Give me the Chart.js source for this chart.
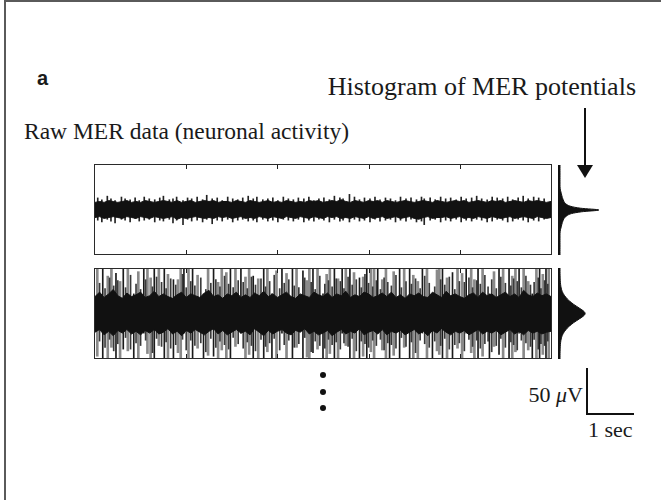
<!DOCTYPE html>
<html>
<head>
<meta charset="utf-8">
<script src="https://cdn.jsdelivr.net/npm/chart.js@4.4.0/dist/chart.umd.min.js"></script>
<style>
body { margin: 0; width: 661px; height: 500px; overflow: hidden; position: relative; background: #fff; color: #1a1a1a; font-family: "Liberation Serif", serif; }
.abs { position: absolute; }
.frame { left: 4px; top: 0; width: 700px; height: 540px; border-left: 2px solid #5a5a5a; border-top: 2px solid #5a5a5a; }
.panel { border: 1px solid #2a2a2a; }
.hist { border-left: 2px solid #111; }
.serif { white-space: nowrap; line-height: 1; }
.dot { width: 6px; height: 6px; border-radius: 50%; background: #111; }
</style>
</head>
<body>
<div class="abs frame"></div>

<div class="abs" style="left:37px;top:68px;font:700 20px 'Liberation Sans',sans-serif;line-height:20px">a</div>
<div class="abs serif" style="right:25px;top:74px;font-size:26px">Histogram of MER potentials</div>
<div class="abs serif" style="left:24px;top:120px;font-size:23.5px">Raw MER data (neuronal activity)</div>

<!-- arrow -->
<div class="abs" style="left:584px;top:108px;width:2px;height:58px;background:#111"></div>
<div class="abs" style="left:577px;top:165px;width:0;height:0;border-left:8px solid transparent;border-right:8px solid transparent;border-top:13px solid #111"></div>

<div class="abs panel" style="left:94px;top:164px"><canvas id="topTrace" width="456" height="89"></canvas></div>
<div class="abs panel" style="left:94px;top:268px"><canvas id="botTrace" width="456" height="89"></canvas></div>
<div class="abs hist" style="left:558px;top:165px"><canvas id="topHist" width="48" height="90"></canvas></div>
<div class="abs hist" style="left:558px;top:268px"><canvas id="botHist" width="48" height="91"></canvas></div>

<div class="abs dot" style="left:320px;top:372px"></div>
<div class="abs dot" style="left:320px;top:389px"></div>
<div class="abs dot" style="left:320px;top:405px"></div>

<!-- scale bar -->
<div class="abs" style="left:586px;top:368px;width:2px;height:47px;background:#111"></div>
<div class="abs" style="left:586px;top:413px;width:48px;height:2px;background:#111"></div>
<div class="abs serif" style="right:78px;top:384px;font-size:22px">50 <i>μ</i>V</div>
<div class="abs serif" style="left:588px;top:419px;font-size:22px">1 sec</div>

<script>
// time grid of the envelope (s)
var sampleTimes = [0,0.1,0.2,0.3,0.4,0.5,0.6,0.7,0.8,0.9,
  1,1.1,1.2,1.3,1.4,1.5,1.6,1.7,1.8,1.9, 2,2.1,2.2,2.3,2.4,2.5,2.6,2.7,2.8,2.9,
  3,3.1,3.2,3.3,3.4,3.5,3.6,3.7,3.8,3.9, 4,4.1,4.2,4.3,4.4,4.5,4.6,4.7,4.8,4.9,
  5,5.1,5.2,5.3,5.4,5.5,5.6,5.7,5.8,5.9, 6,6.1,6.2,6.3,6.4,6.5,6.6,6.7,6.8,6.9,
  7,7.1,7.2,7.3,7.4,7.5,7.6,7.7,7.8,7.9, 8,8.1,8.2,8.3,8.4,8.5,8.6,8.7,8.8,8.9,
  9,9.1,9.2,9.3,9.4,9.5,9.6,9.7,9.8,9.9, 10];
var tickTimes = [2, 4, 6, 8];

// upper trace: dense band (uV)
var topUpper = [8,9,8,10,9,8,9,10,8,9, 8,10,9,8,9,10,9,8,10,8,
  9,10,8,9,10,9,10,8,9,9, 8,10,9,8,10,9,8,9,10,8,
  9,8,10,9,8,9,8,10,9,10, 8,9,10,9,11,9,8,10,9,8,
  10,9,10,8,10,9,8,9,10,9, 8,9,10,9,8,10,9,8,9,10,
  9,10,8,9,10,9,8,10,9,10, 8,9,10,9,8,10,9,10,9,8, 9];
var topLower = [-9,-8,-10,-9,-8,-9,-10,-8,-9,-10, -8,-9,-10,-8,-9,-10,-9,-8,-11,-9,
  -10,-9,-8,-9,-10,-9,-10,-8,-9,-8, -10,-9,-8,-10,-9,-10,-8,-9,-10,-8,
  -9,-10,-8,-9,-10,-8,-9,-10,-8,-9, -10,-8,-9,-8,-10,-9,-10,-8,-9,-10,
  -8,-10,-9,-8,-10,-9,-8,-10,-9,-8, -10,-11,-9,-8,-10,-9,-9,-8,-10,-9,
  -8,-10,-9,-10,-8,-9,-10,-8,-9,-10, -9,-8,-10,-9,-8,-9,-10,-8,-9,-10, -9];
// upper trace: single excursions poking out of the band (time s, top uV, bottom uV)
var topHairT = [0.06,0.15,0.27,0.35,0.44,0.58,0.66,0.77,0.88,0.97, 1.08,1.19,1.31,1.42,1.50,1.63,1.71,1.79,1.93,2.03,
  2.12,2.24,2.36,2.45,2.57,2.68,2.79,2.91,3.02,3.13, 3.24,3.36,3.47,3.55,3.68,3.79,3.90,4.01,4.13,4.24,
  4.35,4.46,4.58,4.69,4.80,4.91,5.02,5.14,5.25,5.37, 5.44,5.58,5.69,5.80,5.91,6.03,6.14,6.25,6.37,6.48,
  6.59,6.70,6.82,6.93,7.05,7.16,7.22,7.35,7.46,7.58, 7.69,7.80,7.92,8.03,8.14,8.26,8.37,8.48,8.60,8.71,
  8.82,8.94,9.05,9.16,9.28,9.39,9.50,9.62,9.73,9.85];
var topHairHi = [13,11,15,12,10,14,12,11,13,10, 14,12,11,13,15,11,12,14,10,13,
  12,14,11,16,12,13,10,14,12,11, 13,15,12,14,11,12,13,10,14,12,
  11,13,12,14,10,12,13,11,15,13, 12,17,14,11,13,12,14,11,13,12,
  10,14,12,13,11,14,12,13,11,14, 12,13,11,14,12,13,15,12,11,14,
  13,12,14,11,13,15,12,14,13,12];
var topHairLo = [-12,-14,-11,-13,-15,-11,-12,-14,-10,-13, -12,-11,-14,-12,-13,-11,-15,-12,-17,-11,
  -13,-12,-14,-11,-16,-12,-13,-11,-14,-12, -11,-13,-12,-14,-11,-13,-12,-14,-11,-12,
  -13,-11,-14,-12,-13,-11,-12,-14,-11,-13, -12,-14,-11,-13,-12,-14,-11,-13,-12,-11,
  -14,-12,-13,-11,-14,-13,-17,-12,-11,-14, -12,-13,-11,-14,-12,-13,-11,-12,-14,-13,
  -11,-12,-14,-13,-11,-12,-14,-12,-13,-11];

// lower trace: dense band (uV)
var botUpper = [19,24,18,22,27,20,17,23,19,21, 24,18,20,25,19,22,19,17,21,24,
  18,22,20,18,23,26,19,21,17,22, 20,24,18,21,18,23,20,25,19,22,
  18,21,24,19,17,22,20,18,24,21, 19,23,18,22,20,25,18,21,19,24,
  22,18,20,23,19,24,18,21,17,22, 20,23,19,18,24,21,18,25,20,22,
  19,17,21,23,18,24,20,22,18,21, 24,19,22,18,26,21,19,23,20,22, 19];
var botLower = [-21,-18,-24,-20,-25,-19,-22,-18,-23,-20, -24,-19,-22,-18,-23,-21,-17,-23,-20,-25,
  -19,-22,-18,-21,-24,-20,-17,-23,-19,-24, -21,-18,-22,-20,-24,-17,-21,-25,-19,-23,
  -20,-18,-22,-24,-19,-21,-17,-23,-20,-24, -22,-19,-25,-21,-18,-23,-20,-22,-17,-24,
  -21,-19,-23,-18,-24,-20,-22,-19,-24,-21, -18,-23,-20,-25,-19,-22,-17,-21,-24,-20,
  -22,-19,-24,-21,-18,-23,-20,-22,-19,-24, -21,-18,-23,-20,-24,-19,-22,-20,-23,-21, -20];

// lower trace: spikes (time s, top uV, bottom uV)
var darkSpikeT = [0.17,0.46,0.62,0.85,1.07,1.30,1.52,1.72,1.95,2.14, 2.38,2.60,2.97,3.20,3.47,3.70,3.88,4.10,4.33,4.56,
  4.78,5.00,5.25,5.42,5.59,5.80,5.96,6.20,6.46,6.68, 6.90,7.18,7.40,7.62,7.84,8.14,8.40,8.65,8.86,9.08, 9.30,9.59,9.75,9.89];
var darkSpikeHi = [60,45,60,22,60,50,60,38,60,60, 22,60,55,60,42,60,22,60,60,48,
  60,22,60,52,60,40,60,60,22,60, 58,60,22,60,46,60,60,22,60,54, 60,22,60,60];
var darkSpikeLo = [-60,-60,-40,-60,-22,-60,-55,-60,-22,-60, -60,-48,-60,-22,-60,-60,-58,-22,-60,-60,
  -44,-60,-60,-22,-60,-60,-50,-22,-60,-60, -60,-22,-60,-52,-60,-22,-60,-60,-46,-60, -22,-60,-60,-56];
var midSpikeT = [0.10,0.22,0.32,0.41,0.50,0.67,0.78,0.90,1.00,1.11, 1.26,1.35,1.46,1.56,1.66,1.77,1.92,2.00,2.10,2.19,
  2.32,2.43,2.54,2.65,2.74,2.84,2.93,3.03,3.14,3.25, 3.34,3.43,3.52,3.64,3.74,3.83,3.93,4.05,4.15,4.25,
  4.37,4.47,4.60,4.74,4.83,4.93,5.04,5.12,5.20,5.29, 5.38,5.46,5.55,5.64,5.73,5.84,5.92,6.00,6.09,6.17,
  6.26,6.34,6.42,6.50,6.60,6.72,6.82,6.94,7.03,7.13, 7.23,7.33,7.45,7.58,7.67,7.77,7.89,7.99,8.10,8.20,
  8.28,8.37,8.45,8.55,8.62,8.70,8.80,8.90,9.00,9.12, 9.18,9.26,9.35,9.45,9.55,9.63,9.72,9.78,9.86,9.93];
var midSpikeHi = [34,28,40,31,37,29,43,33,27,38, 30,41,35,28,39,32,44,29,36,31,
  40,27,34,38,30,42,33,29,37,35, 28,41,32,39,30,36,43,28,34,38,
  31,29,40,35,27,42,33,37,30,39, 36,28,41,32,38,29,44,34,30,37,
  27,40,35,31,43,29,36,33,39,28, 42,34,30,38,32,41,27,36,35,40,
  29,37,33,43,30,38,28,41,34,31, 39,36,29,42,32,35,40,28,37,33];
var midSpikeLo = [-31,-38,-29,-42,-34,-27,-40,-33,-36,-30, -44,-28,-37,-32,-39,-35,-29,-41,-30,-36,
  -33,-43,-28,-38,-31,-35,-40,-27,-34,-39, -32,-36,-42,-29,-37,-33,-28,-41,-35,-30,
  -38,-34,-27,-43,-31,-36,-39,-29,-35,-32, -40,-33,-37,-28,-42,-31,-34,-38,-30,-36,
  -29,-41,-33,-35,-39,-27,-37,-32,-44,-30, -34,-38,-31,-36,-28,-40,-35,-33,-42,-29,
  -37,-30,-39,-34,-31,-43,-36,-28,-38,-32, -35,-41,-30,-33,-37,-29,-40,-34,-36,-31];
var lightSpikeT = [0.05,0.28,0.36,0.55,0.72,0.95,1.15,1.22,1.40,1.60, 1.82,1.88,2.05,2.25,2.48,2.70,2.78,2.88,3.08,3.30,
  3.38,3.58,3.78,3.98,4.20,4.42,4.65,4.70,4.88,5.08, 5.15,5.33,5.50,5.68,5.88,6.05,6.12,6.30,6.38,6.55,
  6.78,6.98,7.08,7.28,7.50,7.55,7.72,7.95,8.05,8.25, 8.32,8.50,8.75,8.95,9.15,9.22,9.40,9.50,9.68,9.82, 9.95];
var lightSpikeHi = [55,42,58,36,52,47,60,40,55,44, 38,56,50,43,58,35,52,46,57,41,
  54,39,60,48,45,56,37,53,58,44, 50,39,57,46,41,55,60,38,52,47,
  56,43,36,58,49,54,40,57,45,52, 38,60,47,55,42,58,50,36,56,44, 53];
var lightSpikeLo = [-48,-57,-38,-54,-42,-60,-45,-52,-36,-58, -44,-50,-56,-39,-47,-59,-41,-53,-37,-55,
  -46,-60,-43,-51,-57,-38,-49,-54,-40,-58, -45,-52,-36,-56,-48,-43,-59,-41,-53,-47,
  -38,-55,-50,-57,-42,-46,-60,-39,-52,-44, -56,-48,-37,-54,-59,-43,-50,-41,-57,-46, -52];

// histograms of the potentials (bin centre uV, count)
var histBins = [-50,-48,-46,-44,-42,-40,-38,-36,-34,-32,-30,-28,-26,-24,-22,-20,-18,-16,-14,-12,-10,-8,-6,-4,-2,
  0,2,4,6,8,10,12,14,16,18,20,22,24,26,28,30,32,34,36,38,40,42,44,46,48,50];
var topCounts = [0,0,0,0,0,0,0,0,0,0,0,0,0.1,0.4,1,2,3,4,5,6.5,8,11,16,25,47,
  85,45,24,15,10.5,8,6.5,5,4,3,2,1,0.4,0.1,0,0,0,0,0,0,0,0,0,0,0,0];
var botCounts = [0,0.05,0.1,0.1,0.2,0.3,0.4,0.6,0.9,1.3,1.8,2.6,3.6,5,7,9.5,12.5,16,20,25,30,36,42,48,53,
  55,53,48,42,36,30,25,20,16,12.5,9.5,7,5,3.6,2.6,1.8,1.3,0.9,0.6,0.4,0.3,0.2,0.1,0.1,0.05,0];

function pairs(xs, ys) { return xs.map(function (x, i) { return { x: x, y: ys[i] }; }); }
function spikes(ts, hi, lo) { return ts.map(function (t, i) { return { x: t, y: [lo[i], hi[i]] }; }); }

var edgeTicks = {
  id: 'edgeTicks',
  afterDraw: function (chart) {
    var ctx = chart.ctx, a = chart.chartArea, x = chart.scales.x;
    ctx.save();
    ctx.strokeStyle = '#222';
    ctx.lineWidth = 1;
    tickTimes.forEach(function (t) {
      var px = Math.round(x.getPixelForValue(t)) + 0.5;
      ctx.beginPath();
      ctx.moveTo(px, a.top); ctx.lineTo(px, a.top + 4);
      ctx.moveTo(px, a.bottom); ctx.lineTo(px, a.bottom - 4);
      ctx.stroke();
    });
    ctx.restore();
  }
};

function traceScales() {
  return {
    x: { type: 'linear', min: 0, max: 10, display: false, offset: false },
    y: { type: 'linear', min: -50, max: 50, display: false }
  };
}
var common = {
  responsive: false,
  animation: false,
  devicePixelRatio: 1,
  layout: { padding: 0 },
  plugins: { legend: { display: false }, tooltip: { enabled: false } }
};

function envelope(upper, lower) {
  return [{
    type: 'line', label: 'upper', data: pairs(sampleTimes, upper), order: 1,
    borderColor: '#111', borderWidth: 1, backgroundColor: '#111', fill: '+1', pointRadius: 0, tension: 0
  }, {
    type: 'line', label: 'lower', data: pairs(sampleTimes, lower), order: 1,
    borderColor: '#111', borderWidth: 1, fill: false, pointRadius: 0, tension: 0
  }];
}
function spikeSet(label, ts, hi, lo, color, width, order) {
  return { type: 'bar', label: label, data: spikes(ts, hi, lo), order: order,
    backgroundColor: color, barThickness: width, grouped: false };
}

new Chart(document.getElementById('topTrace'), {
  type: 'bar',
  data: {
    datasets: [spikeSet('excursions', topHairT, topHairHi, topHairLo, '#222', 1, 2)]
      .concat(envelope(topUpper, topLower))
  },
  options: Object.assign({ scales: traceScales() }, common),
  plugins: [edgeTicks]
});

new Chart(document.getElementById('botTrace'), {
  type: 'bar',
  data: {
    datasets: [
      spikeSet('light spikes', lightSpikeT, lightSpikeHi, lightSpikeLo, '#8a8a8a', 2, 4),
      spikeSet('mid spikes', midSpikeT, midSpikeHi, midSpikeLo, '#3a3a3a', 1, 3),
      spikeSet('dark spikes', darkSpikeT, darkSpikeHi, darkSpikeLo, '#1a1a1a', 1, 2)
    ].concat(envelope(botUpper, botLower))
  },
  options: Object.assign({ scales: traceScales() }, common),
  plugins: [edgeTicks]
});

function histChart(id, counts) {
  new Chart(document.getElementById(id), {
    type: 'line',
    data: {
      datasets: [{
        data: pairs(counts, histBins),
        borderColor: '#111', borderWidth: 1, backgroundColor: '#111',
        fill: 'origin', pointRadius: 0, cubicInterpolationMode: 'monotone'
      }]
    },
    options: Object.assign({
      indexAxis: 'y',
      scales: {
        x: { type: 'linear', min: 0, max: 105, display: false },
        y: { type: 'linear', min: -50, max: 50, display: false }
      }
    }, common)
  });
}
histChart('topHist', topCounts);
histChart('botHist', botCounts);
</script>
</body>
</html>
